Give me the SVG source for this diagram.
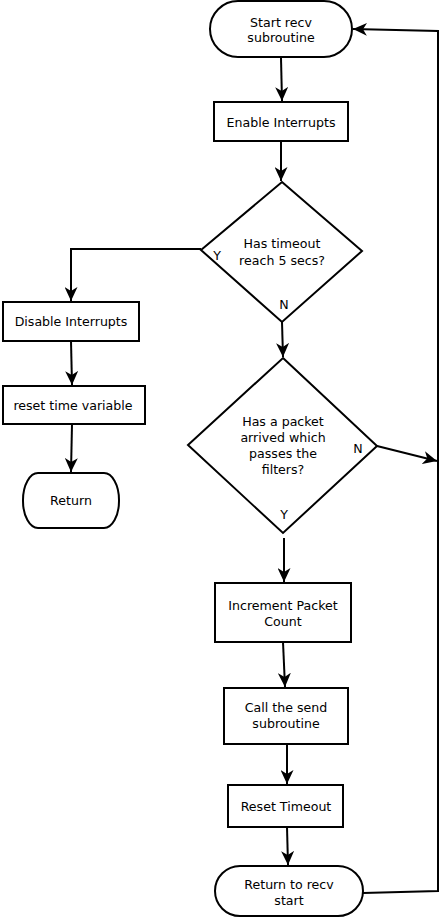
<svg xmlns="http://www.w3.org/2000/svg" width="442" height="918" viewBox="0 0 442 918">
<style>
.shape{fill:#fff;stroke:#000;stroke-width:2}
.conn{fill:none;stroke:#000;stroke-width:2}
text{font-family:"DejaVu Sans","Liberation Sans",sans-serif;font-size:12.6px;fill:#000;text-anchor:middle;dominant-baseline:central}
</style>
<defs>
<marker id="ah" markerUnits="userSpaceOnUse" markerWidth="15" markerHeight="13" refX="14" refY="6.5" orient="auto">
<path d="M0,0 L14,6.5 L0,13 L4,6.5 z" fill="#000"/>
</marker>
</defs>
<rect width="442" height="918" fill="#fff"/>
<g id="connectors">
<path class="conn" d="M281,58 L282,101" marker-end="url(#ah)"/>
<path class="conn" d="M281,141 L281,181" marker-end="url(#ah)"/>
<path class="conn" d="M201,249 L71,249 L71,301" marker-end="url(#ah)"/>
<path class="conn" d="M71,341 L72,385" marker-end="url(#ah)"/>
<path class="conn" d="M72,424 L71,472" marker-end="url(#ah)"/>
<path class="conn" d="M282,322 L283,357" marker-end="url(#ah)"/>
<path class="conn" d="M377,446 L437,461" marker-end="url(#ah)"/>
<path class="conn" d="M284,538 L284,582" marker-end="url(#ah)"/>
<path class="conn" d="M283,642 L285,687" marker-end="url(#ah)"/>
<path class="conn" d="M287,744 L287,784" marker-end="url(#ah)"/>
<path class="conn" d="M287,827 L288,865" marker-end="url(#ah)"/>
<path class="conn" d="M363,893 L438,891 L438,31 L353,29" marker-end="url(#ah)"/>
</g>
<g id="start">
<rect class="shape" x="210" y="1" width="142" height="56" rx="28"/>
<text x="281" y="22">Start recv</text>
<text x="281" y="37">subroutine</text>
</g>
<g id="enable">
<rect class="shape" x="214" y="102" width="134" height="39"/>
<text x="281" y="122">Enable Interrupts</text>
</g>
<g id="timeout">
<polygon class="shape" points="282,182 362,251 282,322 201,250"/>
<text x="282" y="243">Has timeout</text>
<text x="282" y="260">reach 5 secs?</text>
<text x="217" y="255">Y</text>
<text x="284" y="304">N</text>
</g>
<g id="disable">
<rect class="shape" x="3" y="302" width="136" height="39"/>
<text x="71" y="321">Disable Interrupts</text>
</g>
<g id="resettime">
<rect class="shape" x="3" y="386" width="142" height="38"/>
<text x="73" y="405">reset time variable</text>
</g>
<g id="return">
<rect class="shape" x="23" y="473" width="96" height="55" rx="15" ry="27"/>
<text x="71" y="500">Return</text>
</g>
<g id="packet">
<polygon class="shape" points="283,358 377,446 283,533 188,445"/>
<text x="283" y="421">Has a packet</text>
<text x="283" y="437">arrived which</text>
<text x="283" y="453">passes the</text>
<text x="283" y="469">filters?</text>
<text x="358" y="448">N</text>
<text x="284" y="514">Y</text>
</g>
<g id="increment">
<rect class="shape" x="215" y="583" width="136" height="59"/>
<text x="283" y="605">Increment Packet</text>
<text x="283" y="621">Count</text>
</g>
<g id="callsend">
<rect class="shape" x="224" y="688" width="124" height="56"/>
<text x="286" y="707">Call the send</text>
<text x="286" y="723">subroutine</text>
</g>
<g id="resettimeout">
<rect class="shape" x="228" y="785" width="115" height="42"/>
<text x="286" y="806">Reset Timeout</text>
</g>
<g id="returnrecv">
<rect class="shape" x="215" y="866" width="148" height="50" rx="25"/>
<text x="289" y="884">Return to recv</text>
<text x="289" y="900">start</text>
</g>
</svg>
